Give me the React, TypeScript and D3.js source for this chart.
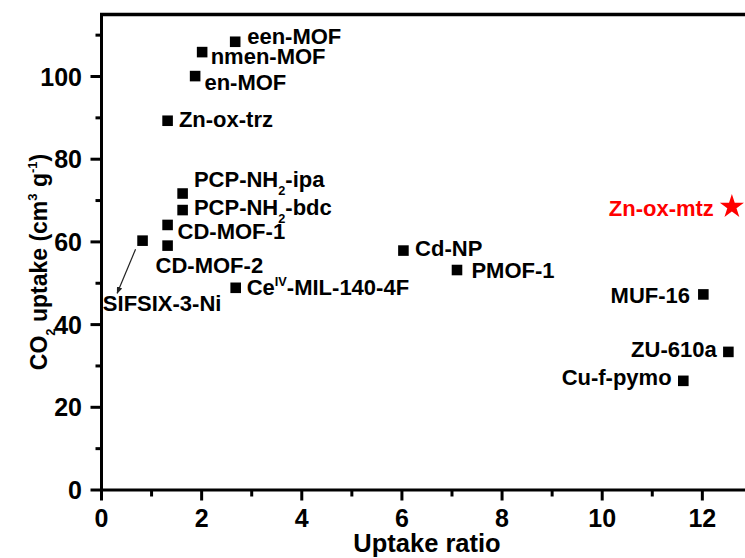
import React from "react";
import * as d3 from "d3";

// Uptake ratio vs. CO2 uptake for a set of porous materials
type Part = { t: string; sub?: boolean; sup?: boolean };

const names: string[] = [
  "een-MOF", "nmen-MOF", "en-MOF", "Zn-ox-trz", "PCP-NH2-ipa", "PCP-NH2-bdc",
  "CD-MOF-1", "CD-MOF-2", "SIFSIX-3-Ni", "CeIV-MIL-140-4F", "Cd-NP", "PMOF-1",
  "MUF-16", "ZU-610a", "Cu-f-pymo",
];
const ratios: number[] = [2.67, 2.01, 1.87, 1.32, 1.62, 1.62, 1.32, 1.32, 0.82, 2.68, 6.03, 7.1, 12.02, 12.52, 11.62];
const uptakes: number[] = [108.4, 105.9, 100.1, 89.3, 71.7, 67.7, 64.1, 59.1, 60.3, 48.9, 57.9, 53.2, 47.3, 33.4, 26.4];

// Rich-text pieces for labels that carry sub/superscripts
const labelParts: Record<string, Part[]> = {
  "PCP-NH2-ipa": [{ t: "PCP-NH" }, { t: "2", sub: true }, { t: "-ipa" }],
  "PCP-NH2-bdc": [{ t: "PCP-NH" }, { t: "2", sub: true }, { t: "-bdc" }],
  "CeIV-MIL-140-4F": [{ t: "Ce" }, { t: "IV", sup: true }, { t: "-MIL-140-4F" }],
};

// Highlighted material
const starName = "Zn-ox-mtz";
const starRatio = 12.59;
const starUptake = 68.5;

const xTicks: number[] = [0, 2, 4, 6, 8, 10, 12];
const xMinor: number[] = [1, 3, 5, 7, 9, 11];
const yTicks: number[] = [0, 20, 40, 60, 80, 100];
const yMinor: number[] = [10, 30, 50, 70, 90, 110];

// Label placement relative to each marker (px): [dx, dy, anchor]
const labelOffsets: [number, number, string][] = [
  [12, 2.6, "start"],
  [8.5, 11.7, "start"],
  [9.3, 14, "start"],
  [11.3, 6, "start"],
  [11.3, -6.3, "start"],
  [11.3, 5, "start"],
  [10, 14, "start"],
  [-12, 27.3, "start"],
  [-39.7, 70.3, "start"],
  [11, 7.3, "start"],
  [11.7, 5.3, "start"],
  [14.4, 8, "start"],
  [-13.3, 8.7, "end"],
  [-11.7, 5, "end"],
  [-11.7, 4.3, "end"],
];

const W = 745;
const H = 558;
const FONT = "'Liberation Sans', Arial, sans-serif";

function RichText({ parts, x, y, anchor, size, fill }: { parts: Part[]; x: number; y: number; anchor: string; size: number; fill: string }) {
  const subSize = size * 0.58;
  const nodes: React.ReactNode[] = [];
  let shift = 0;
  parts.forEach((p, i) => {
    let target = 0;
    if (p.sub) target = size * 0.36;
    if (p.sup) target = -size * 0.42;
    const dy = target - shift;
    shift = target;
    nodes.push(
      <tspan key={i} dy={dy} fontSize={p.sub || p.sup ? subSize : size}>
        {p.t}
      </tspan>
    );
  });
  return (
    <text x={x} y={y} textAnchor={anchor as any} fontFamily={FONT} fontWeight="bold" fontSize={size} fill={fill}>
      {nodes}
    </text>
  );
}

export default function App() {
  const x = d3.scaleLinear().domain([0, 13]).range([101.5, 101.5 + 13 * 50.07]);
  const y = d3.scaleLinear().domain([0, 115]).range([490, 490 - 115 * 4.135]);
  const x0 = x(0);
  const y0 = y(0);
  const yTop = y(115);

  const square = d3.symbol().type(d3.symbolSquare).size(112)()!;
  const star = d3.symbol().type(d3.symbolStar).size(180)()!;

  const sifIdx = names.indexOf("SIFSIX-3-Ni");
  const sx = x(ratios[sifIdx]);
  const sy = y(uptakes[sifIdx]);

  return (
    <div style={{ position: "fixed", left: 0, top: 0 }}>
      <svg width={W} height={H} style={{ display: "block", background: "#fff" }}>
        <defs>
          <marker id="arrowHead" viewBox="0 0 10 10" refX="9" refY="5" markerWidth="7" markerHeight="7" orient="auto" markerUnits="userSpaceOnUse">
            <path d="M0,1 L10,5 L0,9 Z" fill="#222" />
          </marker>
        </defs>

        {/* frame: left, bottom and top lines */}
        <line x1={x0} x2={x0} y1={yTop - 1.5} y2={y0 + 1.5} stroke="#000" strokeWidth={3} />
        <line x1={x0 - 1.5} x2={W} y1={y0} y2={y0} stroke="#000" strokeWidth={3} />
        <line x1={x0 - 1.5} x2={W} y1={yTop} y2={yTop} stroke="#000" strokeWidth={3.5} />

        {/* x ticks */}
        {xTicks.map((t) => (
          <g key={"xt" + t}>
            <line x1={x(t)} x2={x(t)} y1={y0} y2={y0 + 10.5} stroke="#000" strokeWidth={3} />
            <text x={x(t)} y={527} textAnchor="middle" fontFamily={FONT} fontWeight="bold" fontSize={25}>
              {t}
            </text>
          </g>
        ))}
        {xMinor.map((t) => (
          <line key={"xm" + t} x1={x(t)} x2={x(t)} y1={y0} y2={y0 + 6.5} stroke="#000" strokeWidth={3} />
        ))}

        {/* y ticks */}
        {yTicks.map((t) => (
          <g key={"yt" + t}>
            <line x1={x0} x2={x0 - 11} y1={y(t)} y2={y(t)} stroke="#000" strokeWidth={3} />
            <text x={82} y={y(t) + 9} textAnchor="end" fontFamily={FONT} fontWeight="bold" fontSize={25}>
              {t}
            </text>
          </g>
        ))}
        {yMinor.map((t) => (
          <line key={"ym" + t} x1={x0} x2={x0 - 6} y1={y(t)} y2={y(t)} stroke="#000" strokeWidth={3} />
        ))}

        {/* axis titles */}
        <text x={427} y={552} textAnchor="middle" fontFamily={FONT} fontWeight="bold" fontSize={25.5}>
          Uptake ratio
        </text>
        <g transform="translate(47,262) rotate(-90)">
          <text x={0} y={0} textAnchor="middle" fontFamily={FONT} fontWeight="bold" fontSize={23}>
            <tspan>CO</tspan>
            <tspan fontSize={13} dy={8}>2</tspan>
            <tspan dy={-8}> uptake (cm</tspan>
            <tspan fontSize={13} dy={-10}>3</tspan>
            <tspan dy={10}> g</tspan>
            <tspan fontSize={13} dy={-10}>-1</tspan>
            <tspan dy={10}>)</tspan>
          </text>
        </g>

        {/* arrow pointing to the SIFSIX-3-Ni label */}
        <line x1={sx - 7} y1={sy + 8.6} x2={sx - 25.4} y2={sy + 52.6} stroke="#222" strokeWidth={1.2} markerEnd="url(#arrowHead)" />

        {/* markers and labels */}
        {names.map((n, i) => {
          const px = x(ratios[i]);
          const py = y(uptakes[i]);
          const [dx, dy, anchor] = labelOffsets[i];
          const parts = labelParts[n] ?? [{ t: n }];
          return (
            <g key={n}>
              <path d={square} transform={`translate(${px},${py})`} fill="#000" />
              <RichText parts={parts} x={px + dx} y={py + dy} anchor={anchor} size={22} fill="#000" />
            </g>
          );
        })}

        {/* highlighted material */}
        <path d={star} transform={`translate(${x(starRatio)},${y(starUptake)})`} fill="#ff0000" />
        <text x={x(starRatio) - 18} y={y(starUptake) + 9} textAnchor="end" fontFamily={FONT} fontWeight="bold" fontSize={22} fill="#ff0000">
          {starName}
        </text>
      </svg>
    </div>
  );
}
